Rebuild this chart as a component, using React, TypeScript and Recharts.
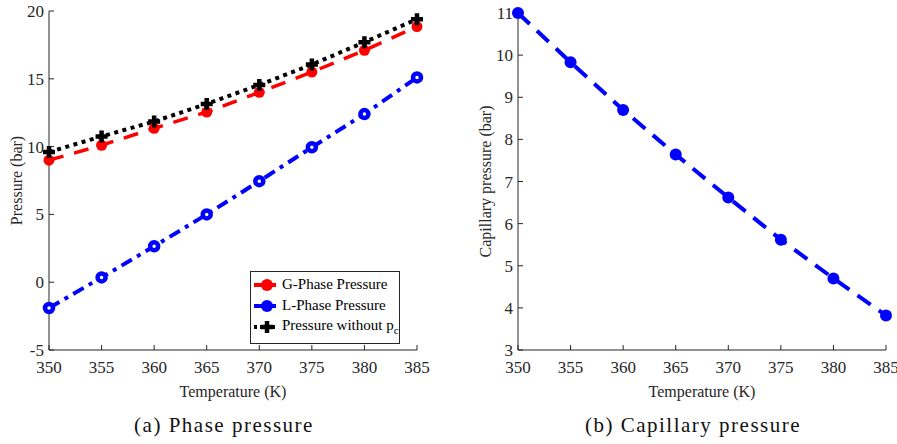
import React from "react";
import { LineChart, Line, XAxis, YAxis, Legend } from "recharts";

const temps = [350, 355, 360, 365, 370, 375, 380, 385];
const gPhase = [9.0, 10.1, 11.35, 12.55, 14.0, 15.5, 17.1, 18.85];
const lPhase = [-1.9, 0.35, 2.65, 5.0, 7.45, 9.95, 12.4, 15.1];
const noPc = [9.6, 10.75, 11.85, 13.15, 14.55, 16.05, 17.7, 19.4];
const capillary = [11.0, 9.83, 8.7, 7.64, 6.62, 5.62, 4.7, 3.82];

const xTicks = [350, 355, 360, 365, 370, 375, 380, 385];
const leftTicks = [-5, 0, 5, 10, 15, 20];
const rightTicks = [3, 4, 5, 6, 7, 8, 9, 10, 11];

const phaseData = temps.map((t, i) => ({ t, g: gPhase[i], l: lPhase[i], n: noPc[i] }));
const capData = temps.map((t, i) => ({ t, c: capillary[i] }));

const AX = "#262626";
const FONT = "Liberation Serif";
const RED = "#ff0000";
const BLUE = "#0000ff";

const tickStyle = { fill: AX, fontSize: 17, fontFamily: FONT };

const RedDot = (p: any) => <circle key={p.key} cx={p.cx} cy={p.cy} r={5.5} fill={RED} stroke="none" />;
const RingDot = (p: any) => <circle key={p.key} cx={p.cx} cy={p.cy} r={4} fill="#fff" stroke={BLUE} strokeWidth={4.5} />;
const BlueDot = (p: any) => <circle key={p.key} cx={p.cx} cy={p.cy} r={6} fill={BLUE} stroke="none" />;
const PlusDot = (p: any) => (
  <path
    key={p.key}
    d={`M${p.cx - 6},${p.cy}H${p.cx + 6}M${p.cx},${p.cy - 6}V${p.cy + 6}`}
    stroke="#000"
    strokeWidth={4.5}
    fill="none"
  />
);

const legendRows = [
  { label: "G-Phase Pressure", color: RED, dash: "9 4", marker: "circle" },
  { label: "L-Phase Pressure", color: BLUE, dash: "8 3 3 3", marker: "circle" },
  { label: "Pressure without p", sub: "c", color: "#000", dash: "3 3", marker: "plus" },
];

const PhaseLegend = () => (
  <div
    style={{
      border: `1px solid ${AX}`,
      background: "#fff",
      boxSizing: "border-box",
      height: 73,
      padding: "2px 0 0 3px",
      fontFamily: FONT,
      fontSize: 15,
      color: "#000",
    }}
  >
    {legendRows.map((r) => (
      <div key={r.label} style={{ display: "flex", alignItems: "center", height: 21 }}>
        <svg width={22} height={14}>
          <line x1={0} y1={7} x2={22} y2={7} stroke={r.color} strokeWidth={4} strokeDasharray={r.dash} />
          {r.marker === "circle" ? (
            <circle cx={13} cy={7} r={6} fill={r.color} />
          ) : (
            <path d="M7,7H19M13,1V13" stroke={r.color} strokeWidth={4.5} />
          )}
        </svg>
        <span style={{ marginLeft: 6, whiteSpace: "nowrap" }}>
          {r.label}
          {r.sub && <sub style={{ fontSize: 11 }}>{r.sub}</sub>}
        </span>
      </div>
    ))}
  </div>
);

export default function App() {
  return (
    <div style={{ position: "absolute", left: 0, top: 0, width: 897, height: 444, background: "#fff" }}>
      <div style={{ position: "absolute", left: 0, top: 0 }}>
        <LineChart width={450} height={410} data={phaseData} margin={{ top: 11, right: 33, left: 0, bottom: 0 }}>
          <XAxis
            dataKey="t"
            type="number"
            domain={[350, 385]}
            ticks={xTicks}
            interval={0}
            height={60}
            stroke={AX}
            tickSize={-5}
            tickMargin={16}
            tick={tickStyle}
            label={{ value: "Temperature (K)", position: "insideBottom", offset: 13, fill: AX, fontSize: 16, fontFamily: FONT }}
          />
          <XAxis xAxisId="top" orientation="top" mirror type="number" domain={[350, 385]} ticks={xTicks} interval={0} height={0} stroke={AX} tickSize={5} tick={false} />
          <YAxis
            type="number"
            domain={[-5, 20]}
            ticks={leftTicks}
            interval={0}
            width={49}
            stroke={AX}
            tickSize={-5}
            tickMargin={10}
            tick={tickStyle}
            label={{ value: "Pressure (bar)", angle: -90, position: "insideLeft", offset: 16, fill: AX, fontSize: 16, fontFamily: FONT, style: { textAnchor: "middle" } }}
          />
          <YAxis yAxisId="right" orientation="right" mirror type="number" domain={[-5, 20]} ticks={leftTicks} interval={0} width={0} stroke={AX} tickSize={5} tick={false} />
          <Legend layout="vertical" align="center" verticalAlign="middle" wrapperStyle={{ left: 250, top: 271, width: 150 }} content={() => <PhaseLegend />} />
          <Line type="linear" dataKey="g" name="G-Phase Pressure" stroke={RED} strokeWidth={3.5} strokeDasharray="15 11" dot={RedDot} isAnimationActive={false} />
          <Line type="linear" dataKey="l" name="L-Phase Pressure" stroke={BLUE} strokeWidth={4} strokeDasharray="12 6 4 6" dot={RingDot} isAnimationActive={false} />
          <Line type="linear" dataKey="n" name="Pressure without pc" stroke="#000" strokeWidth={4} strokeDasharray="4 4.5" dot={PlusDot} isAnimationActive={false} />
        </LineChart>
      </div>

      <div style={{ position: "absolute", left: 450, top: 0 }}>
        <LineChart width={447} height={410} data={capData} margin={{ top: 13, right: 11, left: 0, bottom: 0 }}>
          <XAxis
            dataKey="t"
            type="number"
            domain={[350, 385]}
            ticks={xTicks}
            interval={0}
            height={60}
            stroke={AX}
            tickSize={-5}
            tickMargin={16}
            tick={tickStyle}
            label={{ value: "Temperature (K)", position: "insideBottom", offset: 13, fill: AX, fontSize: 16, fontFamily: FONT }}
          />
          <XAxis xAxisId="top" orientation="top" mirror type="number" domain={[350, 385]} ticks={xTicks} interval={0} height={0} stroke={AX} tickSize={5} tick={false} />
          <YAxis
            type="number"
            domain={[3, 11]}
            ticks={rightTicks}
            interval={0}
            width={68}
            stroke={AX}
            tickSize={-5}
            tickMargin={10}
            tick={tickStyle}
            label={{ value: "Capillary pressure (bar)", angle: -90, position: "insideLeft", offset: 35, fill: AX, fontSize: 16, fontFamily: FONT, style: { textAnchor: "middle" } }}
          />
          <YAxis yAxisId="right" orientation="right" mirror type="number" domain={[3, 11]} ticks={rightTicks} interval={0} width={0} stroke={AX} tickSize={5} tick={false} />
          <Line type="linear" dataKey="c" stroke={BLUE} strokeWidth={4} strokeDasharray="16 10" dot={BlueDot} isAnimationActive={false} />
        </LineChart>
      </div>

      <div style={{ position: "absolute", left: 74, top: 413, width: 300, textAlign: "center", fontFamily: FONT, fontSize: 21, letterSpacing: 1.5, color: "#111" }}>
        (a) Phase pressure
      </div>
      <div style={{ position: "absolute", left: 543, top: 413, width: 300, textAlign: "center", fontFamily: FONT, fontSize: 21, letterSpacing: 1.5, color: "#111" }}>
        (b) Capillary pressure
      </div>
    </div>
  );
}
